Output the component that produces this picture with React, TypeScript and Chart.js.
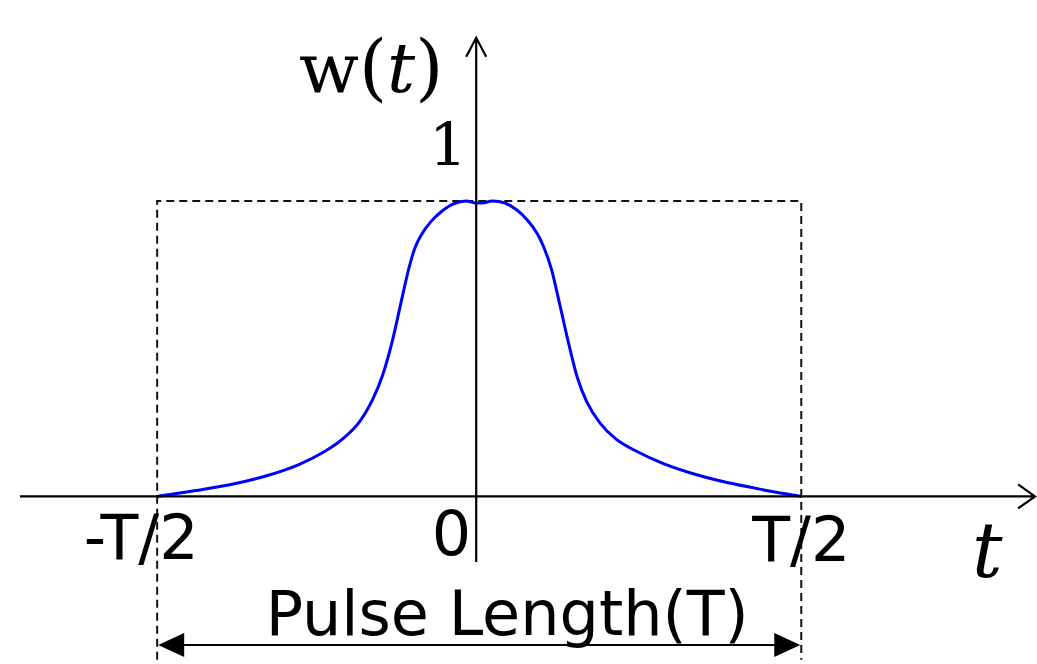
import React, { useEffect, useRef } from "react";
import { Chart, registerables } from "chart.js";

Chart.register(...registerables);

// Window function w(t) sampled over one pulse, t in units of the pulse length T
const T_VALUES = [
  -0.5, -0.44, -0.38, -0.33, -0.28, -0.24, -0.21, -0.185, -0.165, -0.15,
  -0.135, -0.122, -0.11, -0.1, -0.09, -0.075, -0.058, -0.04, -0.02, -0.005,
  0.005, 0.02, 0.04, 0.058, 0.075, 0.09, 0.1, 0.112, 0.124, 0.137, 0.152,
  0.167, 0.187, 0.212, 0.245, 0.285, 0.335, 0.385, 0.44, 0.5,
];
const W_VALUES = [
  0, 0.02, 0.043, 0.07, 0.108, 0.152, 0.198, 0.255, 0.33, 0.41,
  0.525, 0.65, 0.765, 0.84, 0.885, 0.93, 0.965, 0.99, 1.0, 0.993,
  0.993, 1.0, 0.993, 0.97, 0.935, 0.89, 0.845, 0.77, 0.66, 0.535, 0.405,
  0.32, 0.25, 0.195, 0.152, 0.112, 0.075, 0.047, 0.023, 0,
];

// Tick labels on the time axis
const TICK_VALUES = [-0.5, 0, 0.5];
const TICK_LABELS = ["-T/2", "0", "T/2"];
const PEAK_VALUE = 1;
const PEAK_LABEL = "1";
const SPAN_LABEL = "Pulse Length(T)";

const X_MIN = -0.744;
const X_MAX = 0.866;
const Y_MIN = -0.567;
const Y_MAX = 1.68;

const SANS = '"DejaVu Sans", sans-serif';
const SERIF = '"DejaVu Serif", serif';

const diagramPlugin = {
  id: "pulseDiagram",
  beforeDatasetsDraw(chart: any) {
    const { ctx } = chart;
    const xs = chart.scales.x;
    const ys = chart.scales.y;
    const left = xs.getPixelForValue(TICK_VALUES[0]);
    const right = xs.getPixelForValue(TICK_VALUES[2]);
    const top = ys.getPixelForValue(PEAK_VALUE);
    const bottom = ys.getPixelForValue(-0.553);
    ctx.save();
    ctx.strokeStyle = "#111";
    ctx.lineWidth = 2;
    ctx.setLineDash([8, 5]);
    ctx.beginPath();
    ctx.moveTo(left, bottom);
    ctx.lineTo(left, top);
    ctx.lineTo(right, top);
    ctx.lineTo(right, bottom);
    ctx.stroke();
    ctx.restore();
  },
  afterDatasetsDraw(chart: any) {
    const { ctx } = chart;
    const xs = chart.scales.x;
    const ys = chart.scales.y;
    const px = (v: number) => xs.getPixelForValue(v);
    const py = (v: number) => ys.getPixelForValue(v);

    ctx.save();
    ctx.strokeStyle = "#000";
    ctx.fillStyle = "#000";
    ctx.lineWidth = 2.2;
    ctx.setLineDash([]);

    // time axis with open arrow head
    const ax0 = px(-0.713);
    const ax1 = px(0.863);
    const ay = py(0);
    ctx.beginPath();
    ctx.moveTo(ax0, ay);
    ctx.lineTo(ax1, ay);
    ctx.moveTo(ax1 - 17, ay - 12);
    ctx.lineTo(ax1, ay);
    ctx.lineTo(ax1 - 17, ay + 12);
    ctx.stroke();

    // amplitude axis with open arrow head
    const vx = px(0) - 3;
    const vy0 = py(-0.222);
    const vy1 = py(1.552);
    ctx.beginPath();
    ctx.moveTo(vx, vy0);
    ctx.lineTo(vx, vy1);
    ctx.moveTo(vx - 10, vy1 + 19);
    ctx.lineTo(vx, vy1);
    ctx.lineTo(vx + 10, vy1 + 19);
    ctx.stroke();

    // double arrow spanning the pulse length
    const sL = px(TICK_VALUES[0]);
    const sR = px(TICK_VALUES[2]);
    const sy = py(-0.503);
    ctx.lineWidth = 2;
    ctx.beginPath();
    ctx.moveTo(sL + 20, sy);
    ctx.lineTo(sR - 20, sy);
    ctx.stroke();
    ctx.beginPath();
    ctx.moveTo(sL + 1, sy);
    ctx.lineTo(sL + 27, sy - 12);
    ctx.lineTo(sL + 27, sy + 12);
    ctx.closePath();
    ctx.fill();
    ctx.beginPath();
    ctx.moveTo(sR - 1, sy);
    ctx.lineTo(sR - 27, sy - 12);
    ctx.lineTo(sR - 27, sy + 12);
    ctx.closePath();
    ctx.fill();

    // tick labels
    ctx.font = `62px ${SANS}`;
    ctx.textBaseline = "alphabetic";
    ctx.textAlign = "center";
    ctx.fillText(TICK_LABELS[0], px(TICK_VALUES[0]) - 16, 559);
    ctx.textAlign = "right";
    ctx.fillText(TICK_LABELS[1], px(TICK_VALUES[1]) - 8, 555);
    ctx.textAlign = "center";
    ctx.fillText(TICK_LABELS[2], px(TICK_VALUES[2]), 561);
    ctx.fillText(SPAN_LABEL, px(0) + 28, 635);

    // peak value label
    ctx.font = `60px ${SERIF}`;
    ctx.textAlign = "right";
    ctx.fillText(PEAK_LABEL, px(0) - 12, 166);

    // axis title t
    ctx.font = `italic 76px ${SERIF}`;
    ctx.textAlign = "left";
    ctx.fillText("t", 972, 577);

    // axis title w(t)
    const parts: [string, string][] = [
      ["w", `70px ${SERIF}`],
      ["(", `72px ${SERIF}`],
      ["t", `italic 70px ${SERIF}`],
      [")", `72px ${SERIF}`],
    ];
    let cx = 299;
    for (const [s, f] of parts) {
      ctx.font = f;
      ctx.fillText(s, cx, 92);
      cx += ctx.measureText(s).width;
    }
    ctx.restore();
  },
};

export default function App() {
  const canvasRef = useRef<HTMLCanvasElement | null>(null);

  useEffect(() => {
    document.body.style.margin = "0";
    const canvas = canvasRef.current;
    if (!canvas) return;
    const points = T_VALUES.map((t, i) => ({ x: t, y: W_VALUES[i] }));
    const chart = new Chart(canvas, {
      type: "line",
      data: {
        datasets: [
          {
            data: points,
            borderColor: "#0000ff",
            borderWidth: 3,
            pointRadius: 0,
            pointHoverRadius: 0,
            cubicInterpolationMode: "monotone",
            fill: false,
            clip: false as any,
          },
        ],
      },
      options: {
        animation: false,
        responsive: false,
        devicePixelRatio: 1,
        events: [],
        layout: { padding: 0, autoPadding: false },
        scales: {
          x: { type: "linear", min: X_MIN, max: X_MAX, display: false },
          y: { type: "linear", min: Y_MIN, max: Y_MAX, display: false },
        },
        plugins: {
          legend: { display: false },
          tooltip: { enabled: false },
        },
      },
      plugins: [diagramPlugin],
    });
    return () => chart.destroy();
  }, []);

  return (
    <div style={{ position: "absolute", left: 0, top: 0, width: 1037, height: 664, background: "#fff" }}>
      <canvas ref={canvasRef} width={1037} height={664} />
    </div>
  );
}
